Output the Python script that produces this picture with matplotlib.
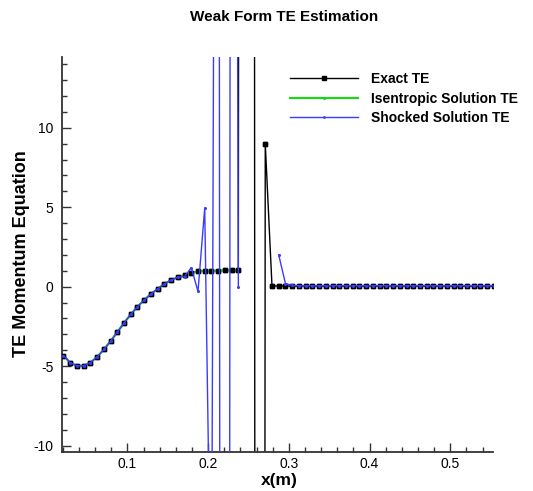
import numpy as np
import matplotlib
matplotlib.use('Agg')
import matplotlib.pyplot as plt
from matplotlib.ticker import MultipleLocator

plt.rcParams['font.family'] = ['Liberation Sans', 'DejaVu Sans']
plt.rcParams['axes.unicode_minus'] = False

# cell centres, dx = 1/120, cells 2..66
cells = np.arange(2, 67)
xx = (cells + 0.5) / 120.0

smooth = [-4.33, -4.78, -4.97, -4.97, -4.77, -4.42, -3.95, -3.43, -2.86,
          -2.29, -1.74, -1.26, -0.84, -0.46, -0.13, 0.17, 0.42, 0.59,
          0.74, 0.88, 0.96, 0.99, 1.0, 1.01, 1.02, 1.02, 1.02]

exact_te = smooth + [500.0, 300.0, -400.0, 9.0, 0.05] + [0.04] * 33
isen_te = smooth + [np.nan] * 38
shock_te = (smooth[:17] + [0.59, 0.63, 1.2, -0.3, 4.95, -23.0, 100.0,
                           -377.0, 135.0, 0.0]
            + [np.nan] * 5 + [2.0, 0.2, 0.08] + [0.06] * 30)

blue = '#3b3bff'
green = '#1ed21e'

fig = plt.figure(figsize=(5.33, 4.91), dpi=100)
ax = fig.add_axes([62/533, 1 - 451.7/491, (493 - 62)/533, (451.7 - 57)/491])

ax.plot(xx, exact_te, color='black', lw=1.0, marker='s', ms=2.8,
        label='Exact TE', zorder=2)
ax.plot(xx, isen_te, color=green, lw=1.6, marker='o', ms=1.5,
        label='Isentropic Solution TE', zorder=3)
ax.plot(xx, exact_te, color='black', lw=0, marker='s', ms=2.8, zorder=4)
ax.plot(xx, shock_te, color=blue, lw=1.0, marker='o', ms=1.2,
        label='Shocked Solution TE', zorder=5)

ax.set_xlim(0.019, 0.553)
ax.set_ylim(-10.38, 14.45)

ax.xaxis.set_major_locator(MultipleLocator(0.1))
ax.xaxis.set_minor_locator(MultipleLocator(0.02))
ax.yaxis.set_major_locator(MultipleLocator(5))
ax.yaxis.set_minor_locator(MultipleLocator(1))
ax.tick_params(which='both', direction='in', color='#333333', width=1.0,
               labelsize=10)
ax.tick_params(which='major', length=6.5)
ax.tick_params(which='minor', length=3.5)
ax.tick_params(axis='y', pad=6)
ax.tick_params(axis='x', pad=4)

for s in ['top', 'right']:
    ax.spines[s].set_visible(False)
for s in ['left', 'bottom']:
    ax.spines[s].set_color('#333333')
    ax.spines[s].set_linewidth(1.3)

fig.text(22/533, 1 - 254/491, 'TE Momentum Equation', rotation=90,
         ha='center', va='center', fontsize=13, fontweight='bold')
fig.text(279/533, 1 - 480/491, 'x(m)', ha='center', va='center',
         fontsize=12.5, fontweight='bold')
fig.text(284/533, 1 - 17/491, 'Weak Form TE Estimation', ha='center',
         va='center', fontsize=11, fontweight='bold')

leg = fig.legend(loc='upper left', bbox_to_anchor=(290/533, 1 - 72/491),
                 frameon=False, borderpad=0, borderaxespad=0,
                 handlelength=4.9, handletextpad=0.9, labelspacing=0.4,
                 prop={'weight': 'bold', 'size': 10}, markerscale=0.8)

fig.savefig('out.png', dpi=100)
